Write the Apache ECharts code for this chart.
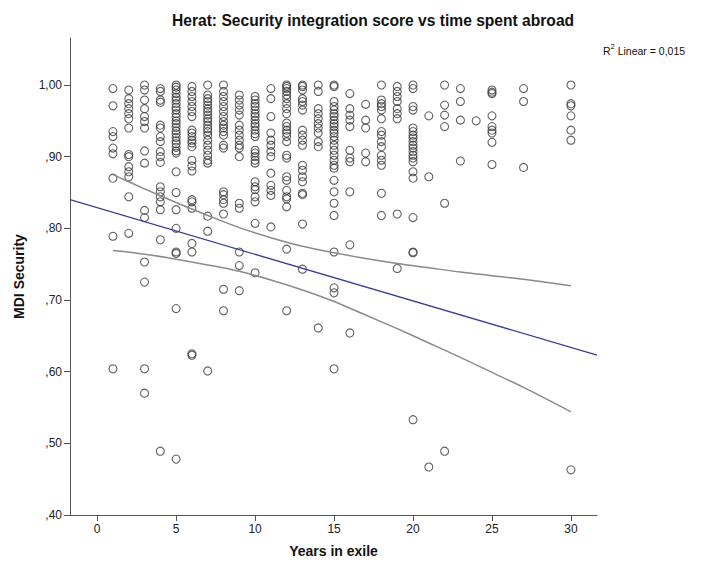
<!DOCTYPE html>
<html>
<head>
<meta charset="utf-8">
<script src="https://cdn.jsdelivr.net/npm/echarts@6/dist/echarts.min.js"></script>
<style>
html,body{margin:0;padding:0;background:#fff;}
#chart{width:704px;height:563px;}
</style>
</head>
<body>
<div id="chart"></div>
<script>
// ---- data ----
var titleText = "Herat: Security integration score vs time spent abroad";
var xAxisTitle = "Years in exile";
var yAxisTitle = "MDI Security";
var rSquaredText = "0,015";

var xTicks = [0, 5, 10, 15, 20, 25, 30];
var yTicks = [0.4, 0.5, 0.6, 0.7, 0.8, 0.9, 1.0];

// MDI Security values per year in exile
var years = [1,2,3,4,5,6,7,8,9,10,11,12,13,14,15,16,17,18,19,20,21,22,23,24,25,27,30];
var y01 = [0.995,0.971,0.935,0.928,0.912,0.904,0.870,0.789,0.604];
var y02 = [0.993,0.981,0.974,0.967,0.960,0.953,0.940,0.903,0.900,0.886,0.879,0.872,0.844,0.793];
var y03 = [1.000,0.993,0.979,0.967,0.956,0.949,0.940,0.908,0.891,0.825,0.815,0.753,0.725,0.604,0.570];
var y04 = [0.995,0.991,0.979,0.976,0.944,0.940,0.928,0.921,0.907,0.900,0.892,0.858,0.851,0.844,0.837,0.826,0.784,0.489];
var y05 = [1.000,0.997,0.993,0.988,0.983,0.979,0.974,0.969,0.965,0.960,0.955,0.950,0.946,0.941,0.936,0.932,0.927,0.922,0.918,0.913,0.908,0.905,0.879,0.850,0.826,0.800,0.767,0.765,0.688,0.478];
var y06 = [0.998,0.991,0.984,0.977,0.970,0.963,0.956,0.937,0.933,0.928,0.923,0.919,0.914,0.895,0.887,0.880,0.840,0.837,0.828,0.779,0.767,0.625,0.623];
var y07 = [1.000,0.986,0.981,0.977,0.972,0.967,0.963,0.958,0.953,0.949,0.944,0.939,0.935,0.930,0.923,0.916,0.909,0.902,0.895,0.891,0.817,0.796,0.601];
var y08 = [1.000,0.991,0.984,0.977,0.970,0.963,0.956,0.949,0.944,0.940,0.935,0.930,0.916,0.912,0.851,0.847,0.840,0.835,0.820,0.715,0.685];
var y09 = [0.986,0.979,0.972,0.965,0.958,0.944,0.937,0.930,0.923,0.916,0.912,0.900,0.835,0.828,0.767,0.748,0.713];
var y10 = [0.984,0.979,0.974,0.970,0.965,0.960,0.956,0.951,0.946,0.942,0.937,0.932,0.928,0.909,0.905,0.900,0.895,0.891,0.865,0.858,0.854,0.844,0.837,0.807,0.738];
var y11 = [0.995,0.981,0.956,0.933,0.923,0.916,0.907,0.900,0.877,0.860,0.853,0.846,0.802];
var y12 = [1.000,0.998,0.995,0.991,0.986,0.981,0.974,0.967,0.960,0.947,0.942,0.937,0.933,0.928,0.921,0.902,0.898,0.872,0.867,0.853,0.844,0.841,0.830,0.771,0.685];
var y13 = [1.000,0.998,0.993,0.981,0.977,0.972,0.965,0.937,0.930,0.923,0.916,0.888,0.881,0.872,0.865,0.849,0.847,0.806,0.743];
var y14 = [1.000,0.991,0.967,0.960,0.953,0.946,0.940,0.933,0.921,0.914,0.661];
var y15 = [1.000,0.998,0.977,0.970,0.965,0.960,0.956,0.951,0.946,0.942,0.937,0.933,0.928,0.923,0.916,0.909,0.902,0.895,0.888,0.884,0.867,0.851,0.835,0.818,0.767,0.717,0.710,0.604];
var y16 = [0.988,0.967,0.958,0.951,0.942,0.909,0.898,0.893,0.851,0.777,0.654];
var y17 = [0.973,0.951,0.940,0.905,0.893];
var y18 = [1.000,0.979,0.974,0.970,0.965,0.953,0.935,0.930,0.921,0.914,0.902,0.895,0.888,0.849,0.818];
var y19 = [0.998,0.991,0.984,0.977,0.967,0.960,0.953,0.820,0.744];
var y20 = [1.000,0.995,0.970,0.965,0.940,0.935,0.930,0.926,0.921,0.916,0.912,0.907,0.902,0.898,0.893,0.879,0.870,0.815,0.767,0.766,0.533];
var y21 = [0.957,0.872,0.467];
var y22 = [1.000,0.972,0.958,0.942,0.835,0.489];
var y23 = [0.995,0.977,0.951,0.894];
var y24 = [0.950];
var y25 = [0.993,0.990,0.988,0.957,0.942,0.937,0.933,0.920,0.889];
var y27 = [0.995,0.977,0.885];
var y30 = [1.000,0.974,0.971,0.957,0.937,0.923,0.463];
var valuesByYear = [y01,y02,y03,y04,y05,y06,y07,y08,y09,y10,y11,y12,y13,y14,y15,y16,y17,y18,y19,y20,y21,y22,y23,y24,y25,y27,y30];

// Linear fit line (ends at the axis limits)
var fitX = [-1.72, 31.65];
var fitY = [0.840, 0.623];

// 95% confidence band of the mean
var ciX     = [1, 3, 5, 7, 9, 11, 13, 15, 17, 19, 21, 23, 25, 27, 30];
var ciUpper = [0.875, 0.855, 0.836, 0.818, 0.801, 0.787, 0.775, 0.766, 0.758, 0.751, 0.745, 0.739, 0.734, 0.729, 0.720];
var ciLower = [0.769, 0.764, 0.757, 0.749, 0.740, 0.728, 0.714, 0.698, 0.679, 0.660, 0.640, 0.620, 0.599, 0.578, 0.544];

// ---- build series data ----
var points = [];
years.forEach(function (yr, i) {
  valuesByYear[i].forEach(function (v) { points.push([yr, v]); });
});
function pairs(xs, ys) { return xs.map(function (x, i) { return [x, ys[i]]; }); }

function fmtY(v) {
  var s = v.toFixed(2).replace('.', ',');
  if (s.charAt(0) === '0') s = s.substring(1);
  return s;
}

var FONT = 'Liberation Sans, Arial, sans-serif';
var chart = echarts.init(document.getElementById('chart'), null, { renderer: 'svg' });
chart.setOption({
  animation: false,
  backgroundColor: '#ffffff',
  title: [{
    text: titleText,
    left: 167, top: 7,
    textStyle: { fontFamily: FONT, fontSize: 15.6, fontWeight: 'bold', color: '#111' }
  }, {
    text: '{r|R}{s|2}{r| Linear = ' + rSquaredText + '}',
    left: 598, top: 37,
    textStyle: {
      fontWeight: 'normal',
      rich: {
        r: { fontFamily: FONT, fontSize: 10.5, fontWeight: 'normal', color: '#111', verticalAlign: 'bottom', lineHeight: 14 },
        s: { fontFamily: FONT, fontSize: 7.5, fontWeight: 'normal', color: '#111', verticalAlign: 'top', lineHeight: 14, padding: [0, 0, 6, 0] }
      }
    }
  }],
  grid: { left: 70, right: 107, top: 38, bottom: 48, containLabel: false },
  xAxis: {
    type: 'value',
    min: -1.72, max: 31.65,
    name: xAxisTitle,
    nameLocation: 'middle',
    nameGap: 29,
    nameTextStyle: { fontFamily: FONT, fontSize: 14, fontWeight: 'bold', color: '#111' },
    axisLine: { show: true, onZero: false, lineStyle: { color: '#555', width: 1 } },
    axisTick: { show: true, length: 6, customValues: xTicks, lineStyle: { color: '#555' } },
    axisLabel: { customValues: xTicks, margin: 8, fontFamily: FONT, fontSize: 12, color: '#222',
      formatter: function (v) { return String(v); } },
    splitLine: { show: false }
  },
  yAxis: {
    type: 'value',
    min: 0.4, max: 1.0656,
    name: yAxisTitle,
    nameLocation: 'middle',
    nameRotate: 90,
    nameGap: 44,
    nameTextStyle: { fontFamily: FONT, fontSize: 14, fontWeight: 'bold', color: '#111' },
    axisLine: { show: true, onZero: false, lineStyle: { color: '#555', width: 1 } },
    axisTick: { show: true, length: 6, customValues: yTicks, lineStyle: { color: '#555' } },
    axisLabel: { customValues: yTicks, margin: 8, fontFamily: FONT, fontSize: 12, color: '#222',
      formatter: fmtY },
    splitLine: { show: false }
  },
  series: [{
    type: 'scatter',
    data: points,
    symbol: 'circle',
    symbolSize: 8,
    itemStyle: { color: 'rgba(0,0,0,0)', borderColor: '#3a3a3a', borderWidth: 1.1 },
    z: 3
  }, {
    type: 'line',
    data: pairs(fitX, fitY),
    showSymbol: false,
    lineStyle: { color: '#3b3f93', width: 1.3 },
    z: 4
  }, {
    type: 'line',
    data: pairs(ciX, ciUpper),
    showSymbol: false,
    smooth: 0.3,
    lineStyle: { color: '#8a8a8a', width: 1.5 },
    z: 4
  }, {
    type: 'line',
    data: pairs(ciX, ciLower),
    showSymbol: false,
    smooth: 0.3,
    lineStyle: { color: '#8a8a8a', width: 1.5 },
    z: 4
  }]
});
</script>
</body>
</html>
